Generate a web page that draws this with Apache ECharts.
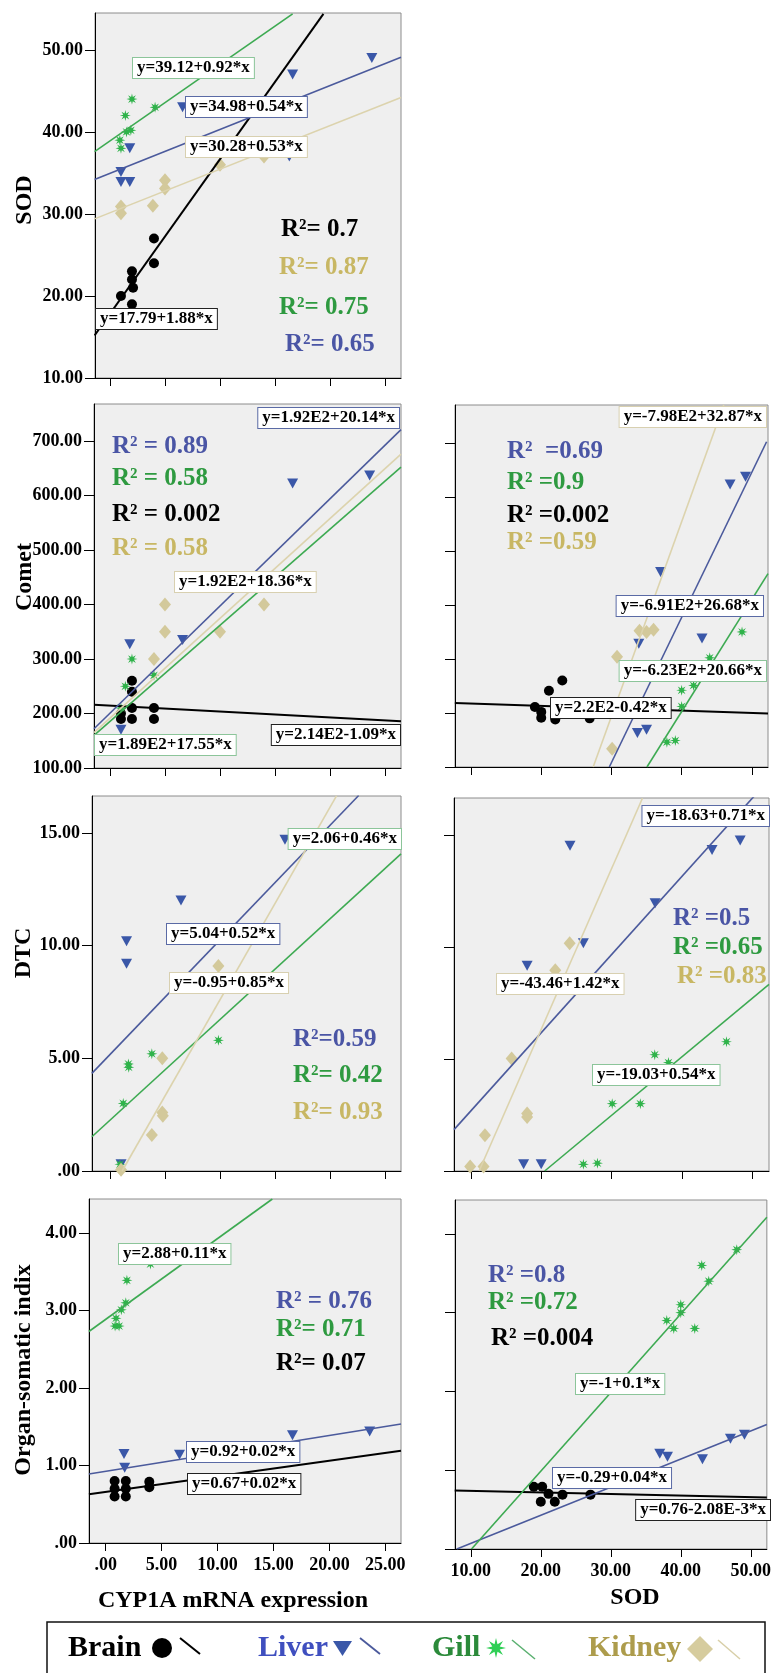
<!DOCTYPE html>
<html>
<head>
<meta charset="utf-8">
<script src="https://cdn.jsdelivr.net/npm/echarts@6/dist/echarts.min.js"></script>
<style>html,body{margin:0;padding:0;background:#fff}#c{width:774px;height:1673px}</style>
</head>
<body>
<div id="c"></div>
<script>
// ---------- DATA ----------
// Panel 1: SOD vs CYP1A mRNA expression
const p1Brain  = [[1,20],[2,23],[2,22],[2.1,21],[2,19],[4,27],[4,24]];
const p1Liver  = [[1,35.1],[1,33.9],[1.8,33.9],[1.8,38],[6.6,43],[16.6,47],[16.3,37],[23.8,49]];
const p1Gill   = [[2,44],[1.4,42],[0.9,39],[1,38],[1.5,40],[1.9,40.2],[4.1,43]];
const p1Kidney = [[1,30.9],[1,30.1],[3.9,31],[5,34.1],[5,33.1],[10,36],[14,37]];
const p1BrainFit  = [[-1.4,15.2],[19.4,54.4]];
const p1LiverFit  = [[-1.4,34.2],[26.45,49.1]];
const p1GillFit   = [[-1.4,37.6],[16.6,54.4]];
const p1KidneyFit = [[-1.4,29.4],[26.45,44.2]];
// Panel 2: Comet vs CYP1A
const p2Brain  = [[1,190],[1,200],[2,190],[2,210],[2,240],[2,260],[4,210],[4,190]];
const p2Liver  = [[1.8,327],[6.6,335],[16.6,622],[23.6,637],[1,170]];
const p2Gill   = [[1.4,250],[2,300],[4,270],[1,210]];
const p2Kidney = [[4,300],[5,400],[5,350],[10,350],[14,400]];
const p2BrainFit  = [[-1.45,216],[26.45,186]];
const p2LiverFit  = [[-1.45,172],[26.45,721]];
const p2GillFit   = [[-1.45,160],[26.45,652]];
const p2KidneyFit = [[-1.45,165],[26.45,676]];
// Panel 3: Comet vs SOD
const p3Brain  = [[19.1,211],[20,202],[20,191],[21.1,241],[23,260],[22,188],[26.9,190]];
const p3Liver  = [[37,461],[42.9,338],[46.9,623],[49.1,637],[33.9,328],[33.7,163],[35,169]];
const p3Gill   = [[48.6,350],[44,302],[40,242],[40,212],[41.7,251],[37.9,146],[39.1,149]];
const p3Kidney = [[34,352],[36,354],[35,350],[30.8,304],[30.1,134]];
const p3BrainFit  = [[7.7,218.5],[52.3,198.8]];
const p3LiverFit  = [[29.7,100],[52.1,702]];
const p3GillFit   = [[35.06,100],[52.3,458]];
const p3KidneyFit = [[27.4,100],[46,770]];
// Panel 4: DTC vs CYP1A
const p4Liver  = [[1.5,10.2],[1.5,9.2],[6.45,12],[15.9,14.7],[1,0.3]];
const p4Gill   = [[1.67,4.75],[1.7,4.6],[3.8,5.2],[9.85,5.8],[1.2,3.0],[0.9,0.3]];
const p4Kidney = [[4.75,5.0],[4.75,2.6],[4.8,2.45],[3.8,1.6],[9.85,9.1],[1,0.05]];
const p4LiverFit  = [[-1.65,4.33],[22.6,16.66]];
const p4GillFit   = [[-1.65,1.52],[26.45,14.07]];
const p4KidneyFit = [[1.1,0],[20.6,16.66]];
// Panel 5: DTC vs SOD
const p5Liver  = [[24.1,14.55],[44.3,14.36],[48.3,14.78],[36.2,11.97],[26,10.18],[18,9.18],[17.5,0.3],[20,0.3]];
const p5Gill   = [[36.15,5.2],[38.1,4.85],[46.35,5.78],[30.1,3.01],[34.1,3.01],[26,0.3],[28,0.35]];
const p5Kidney = [[24.05,10.18],[22,8.98],[15.8,5.03],[18,2.57],[18,2.42],[12,1.6],[9.9,0.2],[11.8,0.2]];
const p5LiverFit  = [[7.6,1.85],[52.4,17.5]];
const p5GillFit   = [[20.5,0],[52.4,8.35]];
const p5KidneyFit = [[11.17,0],[34.4,16.67]];
// Panel 6: Organ-somatic index vs CYP1A
const p6Brain = [[0.8,0.8],[1.8,0.8],[0.8,0.7],[1.8,0.7],[0.8,0.6],[1.8,0.6],[3.9,0.79],[3.9,0.72]];
const p6Liver = [[1.64,1.15],[1.7,0.97],[6.6,1.14],[16.7,1.39],[23.6,1.44]];
const p6Gill  = [[0.93,2.9],[0.84,2.8],[1.2,2.8],[1.4,3.01],[1.8,3.1],[1.9,3.39],[4,3.6]];
const p6BrainFit = [[-1.5,0.63],[26.4,1.19]];
const p6LiverFit = [[-1.5,0.89],[26.4,1.535]];
const p6GillFit  = [[-1.5,2.73],[14.9,4.44]];
// Panel 7: Organ-somatic index vs SOD
const p7Brain = [[19,0.79],[20.2,0.79],[21.1,0.7],[20,0.6],[22,0.6],[23.1,0.69],[27.1,0.69]];
const p7Liver = [[37,1.21],[38.1,1.17],[43.1,1.14],[47.1,1.4],[49.1,1.45]];
const p7Gill  = [[48,3.8],[43,3.6],[44,3.4],[40,3.1],[40,3.0],[38,2.9],[39,2.8],[42,2.8]];
const p7BrainFit = [[7.7,0.743],[52.3,0.654]];
const p7LiverFit = [[8,0],[52.3,1.58]];
const p7GillFit  = [[10.1,0],[52.3,4.21]];
// Tick labels
const cypTicks = [0,5,10,15,20,25];
const sodTicks = [10,20,30,40,50];
const sodYTicks = [10,20,30,40,50];
const cometTicks = [100,200,300,400,500,600,700];
const dtcTicks = [0,5,10,15];
const osiTicks = [0,1,2,3,4];
const organs = ['Brain','Liver','Gill','Kidney'];

// ---------- STYLE ----------
const FONT = '"Liberation Serif","Times New Roman","DejaVu Serif",serif';
function starPts(cx, cy, R, ri){ const pts=[]; for(let i=0;i<16;i++){const r=i%2?ri:R;const a=Math.PI*i/8;pts.push([cx+r*Math.sin(a), cy-r*Math.cos(a)]);} return pts; }
const STAR = 'path://' + starPts(0,0,1,0.4).map((p,i)=>(i?'L':'M')+p[0].toFixed(3)+' '+p[1].toFixed(3)).join(' ') + ' Z';
const ST = {
  Brain: {symbol:'circle', size:10, rot:0, color:'#000000', line:'#000000', lw:2},
  Liver: {symbol:'triangle', size:[11,10], rot:180, color:'#3a57a8', line:'#4b5a9c', lw:1.6},
  Gill: {symbol:STAR, size:11, rot:0, color:'#2fb34a', line:'#3daa52', lw:1.6},
  Kidney: {symbol:'diamond', size:[12,14], rot:0, color:'#d3c99b', line:'#dcd3ad', lw:1.6}
};
const TXT = {Brain:'#000000', Liver:'#4a55a5', Gill:'#2e9a40', Kidney:'#c8b764'};
const BOX = {Brain:'#222222', Liver:'#5a6aa5', Gill:'#8cc59a', Kidney:'#d8d0b0'};
function fmt(v){ return v === 0 ? '.00' : v.toFixed(2); }

const panels = [
  {grid:{left:95,top:13,width:306,height:365}, x:[-1.36,26.45], y:[10,54.5], xt:cypTicks, yt:sodYTicks, xl:false, yl:true,
   pts:{Brain:p1Brain,Liver:p1Liver,Gill:p1Gill,Kidney:p1Kidney}, fit:{Brain:p1BrainFit,Liver:p1LiverFit,Gill:p1GillFit,Kidney:p1KidneyFit}},
  {grid:{left:94,top:404,width:307,height:364}, x:[-1.45,26.45], y:[100,768], xt:cypTicks, yt:cometTicks, xl:false, yl:true,
   pts:{Brain:p2Brain,Liver:p2Liver,Gill:p2Gill,Kidney:p2Kidney}, fit:{Brain:p2BrainFit,Liver:p2LiverFit,Gill:p2GillFit,Kidney:p2KidneyFit}},
  {grid:{left:455,top:405,width:313,height:362}, x:[7.72,52.3], y:[100,770], xt:sodTicks, yt:cometTicks, xl:false, yl:false,
   pts:{Brain:p3Brain,Liver:p3Liver,Gill:p3Gill,Kidney:p3Kidney}, fit:{Brain:p3BrainFit,Liver:p3LiverFit,Gill:p3GillFit,Kidney:p3KidneyFit}},
  {grid:{left:92,top:796,width:309,height:375}, x:[-1.64,26.45], y:[0,16.64], xt:cypTicks, yt:dtcTicks, xl:false, yl:true,
   pts:{Liver:p4Liver,Gill:p4Gill,Kidney:p4Kidney}, fit:{Liver:p4LiverFit,Gill:p4GillFit,Kidney:p4KidneyFit}},
  {grid:{left:454,top:798,width:315,height:373}, x:[7.6,52.4], y:[0,16.68], xt:sodTicks, yt:dtcTicks, xl:false, yl:false,
   pts:{Liver:p5Liver,Gill:p5Gill,Kidney:p5Kidney}, fit:{Liver:p5LiverFit,Gill:p5GillFit,Kidney:p5KidneyFit}},
  {grid:{left:89,top:1199,width:312,height:344}, x:[-1.49,26.4], y:[0,4.44], xt:cypTicks, yt:osiTicks, xl:true, yl:true,
   pts:{Brain:p6Brain,Liver:p6Liver,Gill:p6Gill}, fit:{Brain:p6BrainFit,Liver:p6LiverFit,Gill:p6GillFit}},
  {grid:{left:455,top:1200,width:315,height:349}, x:[7.74,52.3], y:[0,4.43], xt:sodTicks, yt:osiTicks, xl:true, yl:false,
   pts:{Brain:p7Brain,Liver:p7Liver,Gill:p7Gill}, fit:{Brain:p7BrainFit,Liver:p7LiverFit,Gill:p7GillFit}}
];

const grids=[], xAxes=[], yAxes=[], series=[];
panels.forEach((p,i)=>{
  grids.push(Object.assign({show:true, backgroundColor:'#efefef', borderColor:'#8c8c8c', borderWidth:1}, p.grid));
  xAxes.push({type:'value', gridIndex:i, min:p.x[0], max:p.x[1],
    axisLine:{show:true, onZero:false, lineStyle:{color:'#000', width:1}},
    axisTick:{show:true, length:8, customValues:p.xt, lineStyle:{color:'#000', width:1}},
    axisLabel:{show:p.xl, customValues:p.xt, formatter:fmt, fontFamily:FONT, fontWeight:'bold', fontSize:18, color:'#000', margin:13},
    splitLine:{show:false}});
  yAxes.push({type:'value', gridIndex:i, min:p.y[0], max:p.y[1],
    axisLine:{show:true, onZero:false, lineStyle:{color:'#000', width:1}},
    axisTick:{show:true, length:10, customValues:p.yt, lineStyle:{color:'#000', width:1}},
    axisLabel:{show:p.yl, customValues:p.yt, formatter:fmt, fontFamily:FONT, fontWeight:'bold', fontSize:18, color:'#000', margin:12},
    splitLine:{show:false}});
  organs.forEach(o=>{
    if(p.pts[o]) series.push({type:'scatter', xAxisIndex:i, yAxisIndex:i, data:p.pts[o], symbol:ST[o].symbol, symbolSize:ST[o].size, symbolRotate:ST[o].rot, itemStyle:{color:ST[o].color, opacity:1}, z:3, silent:true});
  });
  organs.forEach(o=>{
    if(p.fit[o]) series.push({type:'line', xAxisIndex:i, yAxisIndex:i, data:p.fit[o], symbol:'none', clip:true, lineStyle:{color:ST[o].line, width:ST[o].lw}, z:4, silent:true});
  });
});

// ---------- annotations ----------
const G = [];
function eq(text, x, y, organ, anchor){
  G.push({type:'text', x:x, y:y, z:100, style:{text:text, font:'bold 17px '+FONT, fill:'#000', backgroundColor:'#ffffff', borderColor:BOX[organ], borderWidth:1, padding:[2,4,1,4], align:anchor||'left', verticalAlign:'middle'}});
}
function r2(text, x, y, organ){
  G.push({type:'text', x:x, y:y, z:100, style:{text:text, font:'bold 25px '+FONT, fill:TXT[organ], align:'left', verticalAlign:'middle'}});
}
function title(text, x, y, rot){
  G.push({type:'text', x:x, y:y, rotation:rot||0, z:100, style:{text:text, font:'bold 24px '+FONT, fill:'#000', align:'center', verticalAlign:'middle'}});
}
// Panel 1
eq('y=39.12+0.92*x',133,68,'Gill'); eq('y=34.98+0.54*x',186,107,'Liver'); eq('y=30.28+0.53*x',186,147,'Kidney'); eq('y=17.79+1.88*x',96,319,'Brain');
r2('R²= 0.7',281,230,'Brain'); r2('R²= 0.87',279,268,'Kidney'); r2('R²= 0.75',279,308,'Gill'); r2('R²= 0.65',285,345,'Liver');
// Panel 2
eq('y=1.92E2+20.14*x',399,418,'Liver','right'); eq('y=1.92E2+18.36*x',175,582,'Kidney'); eq('y=1.89E2+17.55*x',95,745,'Gill'); eq('y=2.14E2-1.09*x',400,735,'Brain','right');
r2('R² = 0.89',112,447,'Liver'); r2('R² = 0.58',112,479,'Gill'); r2('R² = 0.002',112,515,'Brain'); r2('R² = 0.58',112,549,'Kidney');
// Panel 3
eq('y=-7.98E2+32.87*x',766,417,'Kidney','right'); eq('y=-6.91E2+26.68*x',763,606,'Liver','right'); eq('y=-6.23E2+20.66*x',766,671,'Gill','right'); eq('y=2.2E2-0.42*x',551,708,'Brain');
r2('R²  =0.69',507,452,'Liver'); r2('R² =0.9',507,483,'Gill'); r2('R² =0.002',507,516,'Brain'); r2('R² =0.59',507,543,'Kidney');
// Panel 4
eq('y=2.06+0.46*x',401,839,'Gill','right'); eq('y=5.04+0.52*x',167,934,'Liver'); eq('y=-0.95+0.85*x',170,983,'Kidney');
r2('R²=0.59',293,1040,'Liver'); r2('R²= 0.42',293,1076,'Gill'); r2('R²= 0.93',293,1113,'Kidney');
// Panel 5
eq('y=-18.63+0.71*x',769,816,'Liver','right'); eq('y=-43.46+1.42*x',497,984,'Kidney'); eq('y=-19.03+0.54*x',593,1075,'Gill');
r2('R² =0.5',673,919,'Liver'); r2('R² =0.65',673,948,'Gill'); r2('R² =0.83',677,977,'Kidney');
// Panel 6
eq('y=2.88+0.11*x',119,1254,'Gill'); eq('y=0.92+0.02*x',187,1452,'Liver'); eq('y=0.67+0.02*x',188,1484,'Brain');
r2('R² = 0.76',276,1302,'Liver'); r2('R²= 0.71',276,1330,'Gill'); r2('R²= 0.07',276,1364,'Brain');
// Panel 7
eq('y=-1+0.1*x',576,1384,'Gill'); eq('y=-0.29+0.04*x',553,1478,'Liver'); eq('y=0.76-2.08E-3*x',770,1510,'Brain','right');
r2('R² =0.8',488,1276,'Liver'); r2('R² =0.72',488,1303,'Gill'); r2('R² =0.004',491,1339,'Brain');
// axis titles
title('SOD',25,200,Math.PI/2); title('Comet',25,577,Math.PI/2); title('DTC',24,953,Math.PI/2); title('Organ-somatic indix',24,1370,Math.PI/2);
title('CYP1A mRNA expression',233,1601); title('SOD',635,1598);

// legend
G.push({type:'rect', z:100, shape:{x:47,y:1622,width:718,height:70}, style:{fill:'#fff', stroke:'#111', lineWidth:1.5}});
const legendItems = [
  {name:'Brain', tx:68, color:'#000000', sx:[180,1638,200,1654], sc:'#000', sw:2},
  {name:'Liver', tx:258, color:'#3f4fbf', sx:[360,1638,380,1654], sc:'#4b5a9c', sw:1.8},
  {name:'Gill', tx:432, color:'#2b8a3a', sx:[512,1640,535,1659], sc:'#5ab070', sw:1.5},
  {name:'Kidney', tx:588, color:'#ad9c4c', sx:[718,1640,740,1659], sc:'#d8cfa8', sw:1.5}
];
legendItems.forEach(it=>{
  G.push({type:'text', x:it.tx, y:1648, z:101, style:{text:it.name, font:'bold 30px '+FONT, fill:it.color, align:'left', verticalAlign:'middle'}});
  G.push({type:'line', z:101, shape:{x1:it.sx[0],y1:it.sx[1],x2:it.sx[2],y2:it.sx[3]}, style:{stroke:it.sc, lineWidth:it.sw}});
});
G.push({type:'circle', z:101, shape:{cx:162,cy:1648,r:10}, style:{fill:'#000'}});
G.push({type:'polygon', z:101, shape:{points:[[333,1641],[352,1641],[342.5,1656]]}, style:{fill:'#3a57a8'}});
G.push({type:'polygon', z:101, shape:{points:starPts(496,1648,10,4)}, style:{fill:'#2fcf55'}});
G.push({type:'polygon', z:101, shape:{points:[[700,1636],[713,1649],[700,1662],[687,1649]]}, style:{fill:'#d6cc9e'}});

const chart = echarts.init(document.getElementById('c'), null, {renderer:'canvas'});
chart.setOption({animation:false, backgroundColor:'#ffffff', grid:grids, xAxis:xAxes, yAxis:yAxes, series:series, graphic:G});
</script>
</body>
</html>
